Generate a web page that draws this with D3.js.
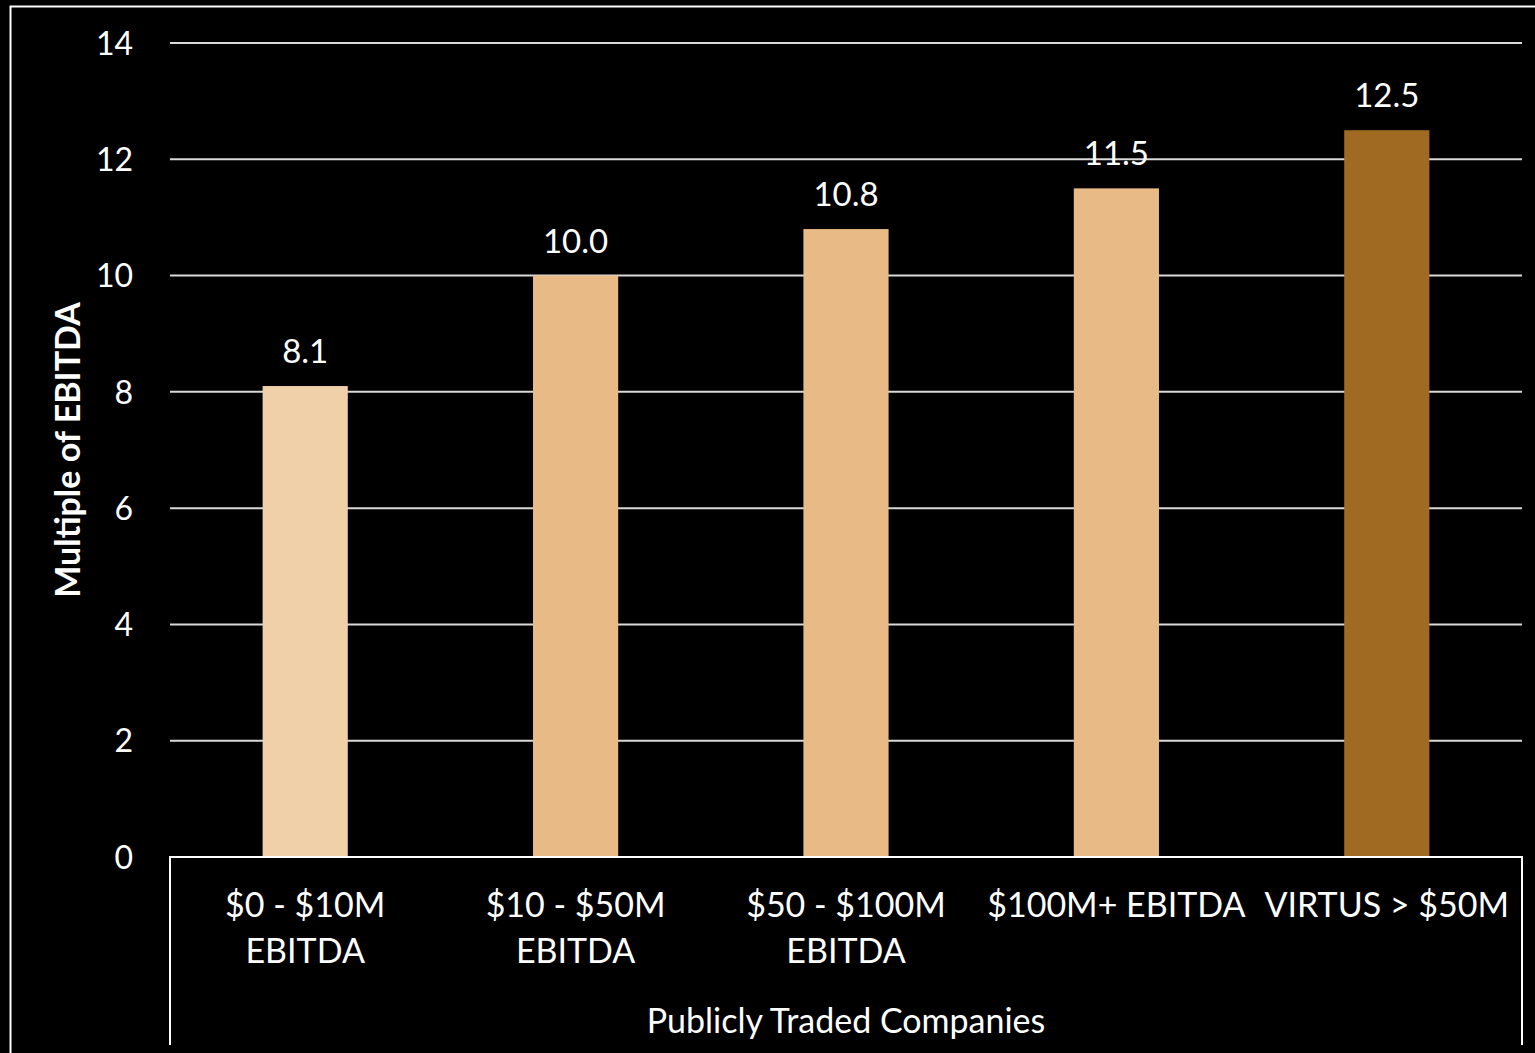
<!DOCTYPE html>
<html><head><meta charset="utf-8">
<script src="https://cdn.jsdelivr.net/npm/d3@7"></script>
<style>html,body{margin:0;padding:0;background:#000;overflow:hidden}</style>
</head><body>
<svg id="c" width="1535" height="1053"></svg>
<script>
const categories = [["$0 - $10M","EBITDA"],["$10 - $50M","EBITDA"],["$50 - $100M","EBITDA"],["$100M+ EBITDA"],["VIRTUS > $50M"]];
const values = [8.1, 10.0, 10.8, 11.5, 12.5];
const barColors = ["#EFD0A9","#E8BA85","#E8BA85","#E8BA85","#A16A23"];
const yTicks = [0,2,4,6,8,10,12,14];
const yTitle = "Multiple of EBITDA";
const groupLabel = "Publicly Traded Companies";

const font = "Lato, 'Open Sans', sans-serif";
const svg = d3.select("#c");
svg.append("rect").attr("width",1535).attr("height",1053).attr("fill","#000");
// outer frame
svg.append("path").attr("d","M1540,6.5 H10.5 V1060").attr("fill","none").attr("stroke","#fff").attr("stroke-width",2);

const L=170,R=1522,T=43,B=857;
const x = d3.scaleBand().domain(d3.range(categories.length)).range([L,R]).paddingInner(0.685).paddingOuter(0.3425);
const y = d3.scaleLinear().domain([0,14]).range([B,T]);

// gridlines
svg.append("g").selectAll("line").data(yTicks.filter(d=>d>0)).join("line")
  .attr("x1",L).attr("x2",R).attr("y1",d=>y(d)).attr("y2",d=>y(d))
  .attr("stroke","#d9d9d9").attr("stroke-width",2);

// y axis labels
const ya = svg.append("g").attr("transform",`translate(${L},0)`).call(d3.axisLeft(y).tickValues(yTicks).tickSize(0).tickPadding(37));
ya.select(".domain").remove();
ya.selectAll("text").attr("fill","#fff").style("font-family",font).style("font-size","32px").attr("dy","0.35em");

// bars
svg.append("g").selectAll("rect").data(values).join("rect")
  .attr("x",(d,i)=>x(i)).attr("width",x.bandwidth())
  .attr("y",d=>y(d)).attr("height",d=>B-y(d))
  .attr("fill",(d,i)=>barColors[i]);

// value labels
svg.append("g").selectAll("text").data(values).join("text")
  .attr("x",(d,i)=>x(i)+x.bandwidth()/2).attr("y",d=>y(d)-23)
  .attr("text-anchor","middle").attr("fill","#fff")
  .style("font-family",font).style("font-size","33px")
  .text(d=>d.toFixed(1));

// category axis (multi-level)
const ax = svg.append("g");
ax.append("path").attr("d",`M${L},1045 V${B} H${R} V1045`).attr("fill","none").attr("stroke","#fff").attr("stroke-width",2);
categories.forEach((lines,i)=>{
  const t = ax.append("text").attr("x",x(i)+x.bandwidth()/2).attr("y",917)
    .attr("text-anchor","middle").attr("fill","#fff").style("font-family",font).style("font-size","34px");
  lines.forEach((ln,j)=>t.append("tspan").attr("x",x(i)+x.bandwidth()/2).attr("dy",j?46:0).text(ln));
});
ax.append("text").attr("x",(L+R)/2).attr("y",1033).attr("text-anchor","middle").attr("fill","#fff")
  .style("font-family",font).style("font-size","34px").text(groupLabel);

// y title
svg.append("text").attr("transform",`translate(80,${(T+B)/2}) rotate(-90)`)
  .attr("text-anchor","middle").attr("fill","#fff").style("font-family",font).style("font-size","34px").style("font-weight","bold")
  .text(yTitle);
</script>
</body></html>
